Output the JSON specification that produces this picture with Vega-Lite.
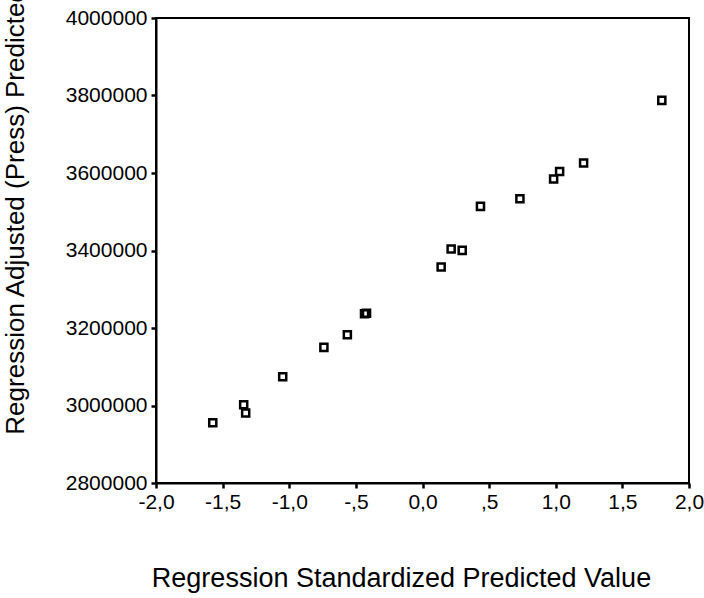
{
  "$schema": "https://vega.github.io/schema/vega-lite/v6.json",
  "width": 533,
  "height": 465,
  "autosize": {"type": "none"},
  "padding": {"left": 156, "top": 18, "right": 15, "bottom": 115},
  "background": "white",
  "config": {
    "view": {"stroke": "black", "strokeWidth": 2},
    "font": "Liberation Sans"
  },
  "data": {
    "values": [
      {"zpred": -1.574, "adjpred": 2955600},
      {"zpred": -1.342, "adjpred": 3002100},
      {"zpred": -1.327, "adjpred": 2980600},
      {"zpred": -1.049, "adjpred": 3074300},
      {"zpred": -0.740, "adjpred": 3150000},
      {"zpred": -0.564, "adjpred": 3182700},
      {"zpred": -0.435, "adjpred": 3236900},
      {"zpred": -0.420, "adjpred": 3238000},
      {"zpred": 0.140, "adjpred": 3357400},
      {"zpred": 0.215, "adjpred": 3403900},
      {"zpred": 0.298, "adjpred": 3400300},
      {"zpred": 0.435, "adjpred": 3513800},
      {"zpred": 0.731, "adjpred": 3533700},
      {"zpred": 0.984, "adjpred": 3584500},
      {"zpred": 1.029, "adjpred": 3604100},
      {"zpred": 1.209, "adjpred": 3625800},
      {"zpred": 1.796, "adjpred": 3787400}
    ]
  },
  "mark": {"type": "point", "shape": "square", "filled": false, "stroke": "black", "strokeWidth": 2.5, "size": 50, "opacity": 1},
  "encoding": {
    "x": {
      "field": "zpred",
      "type": "quantitative",
      "scale": {"domain": [-2, 2], "nice": false, "zero": false},
      "axis": {
        "title": "Regression Standardized Predicted Value",
        "values": [-2, -1.5, -1, -0.5, 0, 0.5, 1, 1.5, 2],
        "labelExpr": "datum.value == 0 ? '0,0' : (datum.value < 0 ? '-' : '') + (abs(datum.value) < 1 ? '' : format(floor(abs(datum.value)), 'd')) + ',' + format(round(abs(datum.value) * 10) % 10, 'd')",
        "grid": false,
        "domainColor": "black",
        "domainWidth": 2,
        "tickColor": "black",
        "tickWidth": 2.5,
        "tickSize": 5,
        "labelColor": "black",
        "labelFontSize": 21,
        "labelPadding": 3,
        "labelFlush": false,
        "labelOverlap": false,
        "titleColor": "black",
        "titleFontSize": 27,
        "titleFontWeight": "normal",
        "titleAnchor": null,
        "titleX": 245,
        "titleY": 95,
        "titleBaseline": "middle"
      }
    },
    "y": {
      "field": "adjpred",
      "type": "quantitative",
      "scale": {"domain": [2800000, 4000000], "nice": false, "zero": false},
      "axis": {
        "title": "Regression Adjusted (Press) Predicted Value",
        "values": [2800000, 3000000, 3200000, 3400000, 3600000, 3800000, 4000000],
        "format": "d",
        "grid": false,
        "domainColor": "black",
        "domainWidth": 2,
        "tickColor": "black",
        "tickWidth": 2.5,
        "tickSize": 5,
        "labelColor": "black",
        "labelFontSize": 21,
        "labelPadding": 4,
        "labelFlush": false,
        "labelOverlap": false,
        "titleColor": "black",
        "titleFontSize": 26,
        "titleFontWeight": "normal",
        "titleAnchor": null,
        "titleAngle": 270,
        "titleAlign": "center",
        "titleBaseline": "middle",
        "titleX": -141,
        "titleY": 157
      }
    }
  }
}
